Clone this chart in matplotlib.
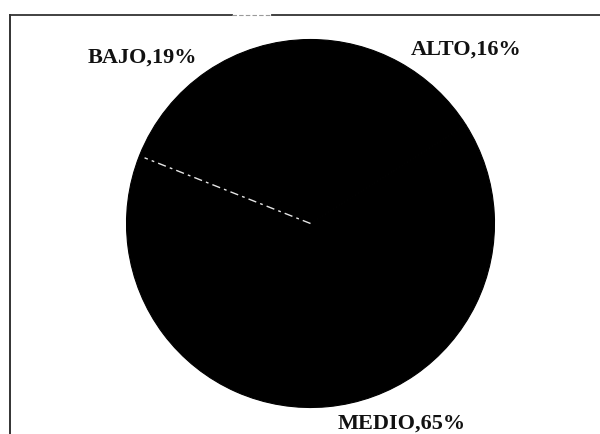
import numpy as np
import matplotlib.pyplot as plt

# nivel de cada categoria (porcentajes)
niveles = ['ALTO', 'MEDIO', 'BAJO']
porcentajes = [16, 65, 19]

fig = plt.figure(figsize=(6.0, 4.34), dpi=100)
ax = fig.add_axes([0, 0, 1, 1])

cx, cy, r = 310.5, 210.5, 184
ax.pie(porcentajes, colors=['black'] * 3, startangle=90, counterclock=False,
       center=(cx, cy), radius=r, frame=True,
       wedgeprops=dict(edgecolor='black', linewidth=0.8))
ax.set_xlim(0, 600)
ax.set_ylim(0, 434)
ax.set_aspect('equal')
ax.axis('off')

# borde visible entre MEDIO y BAJO
ang = np.deg2rad(90 - 360 * sum(porcentajes[:2]) / sum(porcentajes))
ax.plot([cx, cx + 0.97 * r * np.cos(ang)], [cy, cy + 0.97 * r * np.sin(ang)],
        color='white', lw=1.0, ls=(0, (6, 3, 2, 3)), alpha=0.9)

# marco del grafico
ax.plot([10, 10], [0, 419], color='#333333', lw=1.4)
ax.plot([10, 232], [419, 419], color='#333333', lw=1.3)
ax.plot([232, 272], [419, 419], color='#9a9a9a', lw=0.8, ls=(0, (4, 2)))
ax.plot([272, 600], [419, 419], color='#333333', lw=1.3)

fuente = dict(family='Liberation Serif', weight='bold', fontsize=16, color='#111111')
etiquetas = {n: f'{n},{p}%' for n, p in zip(niveles, porcentajes)}
ax.text(466.5, 379, etiquetas['ALTO'], ha='center', va='baseline', **fuente)
ax.text(142.5, 371, etiquetas['BAJO'], ha='center', va='baseline', **fuente)
ax.text(401.5, 5, etiquetas['MEDIO'], ha='center', va='baseline', **fuente)

fig.savefig('out.png', dpi=100, facecolor='white')
